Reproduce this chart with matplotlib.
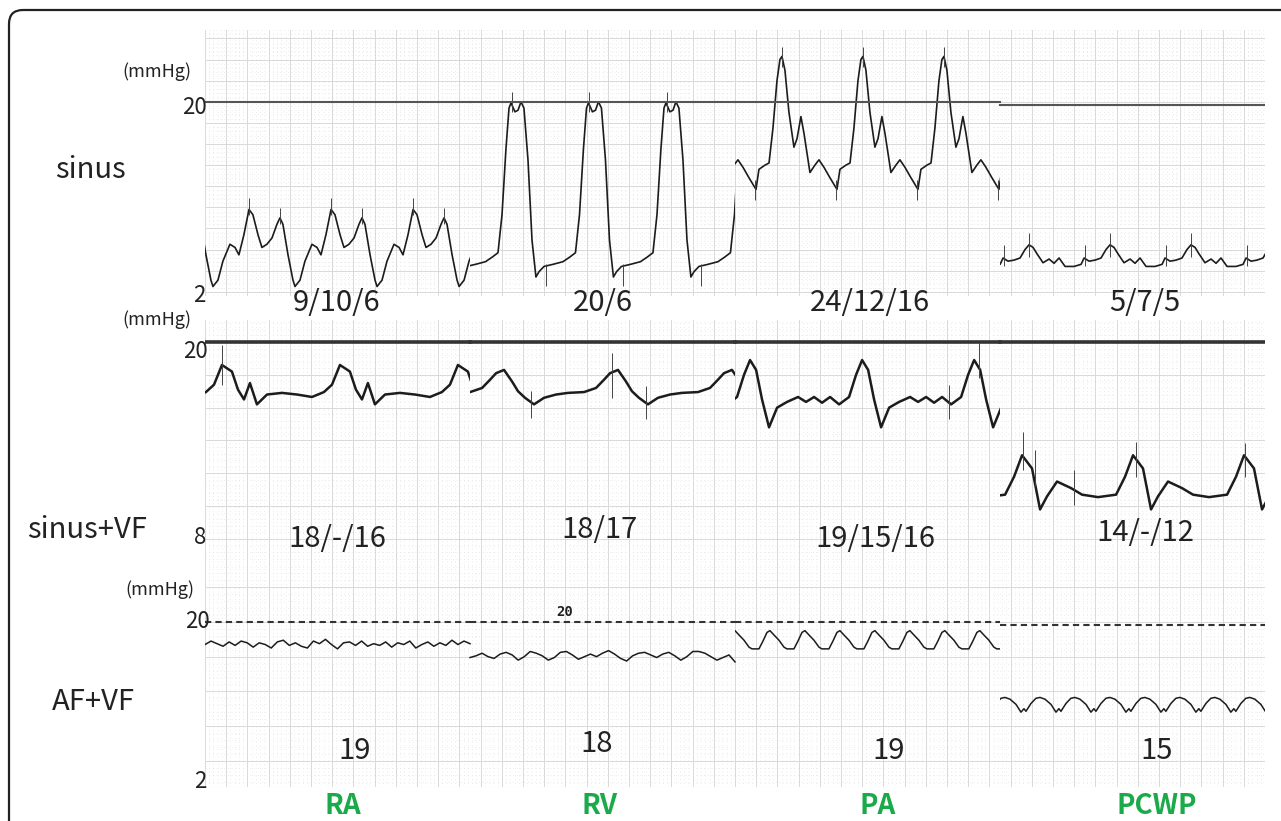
import numpy as np
import matplotlib.pyplot as plt
from matplotlib.patches import FancyBboxPatch, Rectangle

plt.rcParams['font.family'] = ['Noto Sans CJK JP', 'DejaVu Sans']

W, H = 1281, 821
SEG = 2.5  # seconds of tracing shown per chamber

chambers = ['RA', 'RV', 'PA', 'PCWP']
sinus_values = ['9/10/6', '20/6', '24/12/16', '5/7/5']
sinus_vf_values = ['18/-/16', '18/17', '19/15/16', '14/-/12']
af_vf_values = ['19', '18', '19', '15']

# ---- sinus: one beat per chamber (time in beat [s], pressure [mmHg]) ----
ra_s_t = [0, .047, .094, .160, .208, .245, .292, .340, .377, .425, .462, .509, .557, .604, .632, .660, .708, .755]
ra_s_p = [2.5, 3.1, 4.9, 6.5, 6.2, 5.5, 7.4, 9.8, 9.3, 7.4, 6.2, 6.5, 7.1, 8.4, 9.0, 8.4, 5.5, 3.1]
ra_s_spk = [(.340, 9.3, 10.9), (.632, 8.4, 9.9)]

rv_s_t = [0, .038, .075, .104, .123, .160, .189, .217, .245, .283, .321, .358, .387, .434, .519, .613, .679]
rv_s_p = [5.7, 9.3, 15.5, 19.4, 19.9, 19.05, 19.2, 20.0, 19.4, 14.5, 6.9, 3.4, 3.9, 4.4, 4.6, 4.85, 5.3]
rv_s_spk = [(.132, 19.0, 20.9), (.453, 2.5, 4.6)]

pa_s_t = [0, .028, .066, .113, .142, .179, .208, .264, .311, .349, .396, .453, .519, .547, .604, .642, .679, .717, .745]
pa_s_p = [24.3, 23.0, 19.0, 15.7, 16.5, 18.6, 17.0, 13.3, 14.0, 14.5, 13.8, 12.8, 11.7, 13.6, 14.0, 14.2, 17.5, 22.0, 24.0]
pa_s_spk = [(0.0, 23.3, 25.2), (.509, 10.7, 12.6)]

pcwp_s_t = [0, .038, .075, .132, .189, .236, .283, .340, .425, .491, .519, .566, .623, .679, .726]
pcwp_s_p = [6.45, 6.2, 5.6, 4.75, 5.1, 4.7, 5.2, 4.4, 4.4, 4.6, 5.2, 4.9, 5.0, 5.2, 6.0]
pcwp_s_spk = [(0.0, 5.3, 7.6), (.528, 4.4, 6.45)]

sinus_period = [0.774, 0.731, 0.764, 0.764]
sinus_first = [0.075, 0.264, 0.443, 0.274]
sinus_ref = [20.0, 20.0, 20.0, 19.7]

# ---- sinus + VF ----
ra_v_t = [0, .094, .151, .208, .264, .330, .425, .566, .708, .849, .962, 1.038]
ra_v_p = [18.6, 18.2, 17.1, 16.5, 17.5, 16.2, 16.8, 16.9, 16.8, 16.65, 16.95, 17.4]
rv_v_t = [0, .075, .132, .198, .283, .377, .491, .604, .755, .868, .943, 1.0]
rv_v_p = [18.3, 17.6, 17.0, 16.6, 16.2, 16.6, 16.8, 16.9, 16.95, 17.2, 17.7, 18.1]
pa_v_t = [0, .057, .113, .179, .255, .349, .453, .528, .604, .679, .755, .840, .934, 1.0]
pa_v_p = [18.9, 18.3, 16.5, 14.8, 16.0, 16.35, 16.65, 16.35, 16.65, 16.3, 16.65, 16.2, 16.65, 18.0]
pcwp_v_t = [0, .094, .170, .236, .330, .462, .566, .717, .887, .972]
pcwp_v_p = [13.1, 12.3, 9.8, 10.6, 11.5, 11.1, 10.7, 10.55, 10.7, 11.8]
vf_period = [1.113, 1.075, 1.057, 1.047]
vf_first = [0.160, 0.321, 0.142, 0.208]
vf_ref = [20.0, 20.0, 20.0, 20.0]
# (time [s], low, high) artefact spikes
vf_spikes = [(0.160, 17.4, 19.8), (3.075, 15.4, 17.0), (3.840, 16.6, 19.3), (4.160, 15.3, 17.3),
             (7.019, 15.3, 17.4), (7.302, 17.8, 20.0), (7.717, 12.2, 14.5), (7.830, 11.2, 13.4),
             (8.198, 10.1, 12.2), (8.783, 11.8, 13.9), (9.811, 11.8, 13.85)]

# ---- AF + VF ----
ra_af_p = [17.4, 17.8, 17.5, 17.2, 17.7, 17.3, 17.8, 17.6, 17.1, 17.6, 17.4, 17.0, 17.7, 17.9, 17.3,
           17.6, 17.2, 17.0, 17.8, 17.5, 18.0, 17.4, 16.9, 17.6, 17.7, 17.3, 17.8, 17.2, 17.5, 17.3,
           17.7, 17.1, 17.6, 17.4, 17.8, 17.0, 17.4, 17.7, 17.2, 17.6, 17.3, 17.9, 17.4, 17.8, 17.5]
rv_af_p = [15.9, 16.1, 16.4, 16.0, 15.8, 16.3, 16.5, 16.2, 15.6, 16.0, 16.6, 16.4, 16.1, 15.6, 15.9,
           16.5, 16.6, 16.2, 15.7, 16.0, 16.3, 16.0, 16.4, 16.7, 16.3, 15.8, 15.5, 16.1, 16.4, 16.5,
           16.2, 15.9, 16.3, 16.5, 16.1, 15.6, 16.0, 16.6, 16.6, 16.4, 16.0, 15.6, 15.9, 16.2, 15.4]
pa_af_t = [0, .038, .085, .132, .160, .226, .264, .302]
pa_af_p = [19.0, 18.5, 17.9, 17.1, 16.9, 16.9, 17.8, 18.8]
pcwp_af_t = [0, .047, .104, .151, .179, .198, .245, .292]
pcwp_af_p = [11.3, 11.1, 10.5, 9.6, 10.0, 9.7, 10.6, 11.2]
af_period = [0.330, 0.330]
af_first = [0.0, 0.047]
af_ref = [20.0, 20.0, 20.0, 19.65]

INK = '#1c1c1c'
TXT = '#222222'


def tile(t, p, period, first, seg):
    t0 = seg * SEG
    xs, ys = [], []
    for k in range(-1, int(SEG / period) + 2):
        xs.extend(t0 + first + k * period + np.asarray(t))
        ys.extend(p)
    return np.array(xs), np.array(ys)


def seg_clip(ax, seg):
    return Rectangle((seg * SEG, -50), SEG, 100, transform=ax.transData)


def row_axes(box, ylim, ymajor, yminor):
    x0, y0, x1, y1 = box
    ax = fig.add_axes([x0 / W, 1 - y1 / H, (x1 - x0) / W, (y1 - y0) / H])
    ax.set_xlim(0, 4 * SEG)
    ax.set_xticks(np.arange(0, 4 * SEG + 0.01, 0.2))
    ax.set_xticks(np.arange(0, 4 * SEG + 0.01, 0.04), minor=True)
    ax.set_yticks(np.arange(0, 30, ymajor))
    ax.set_yticks(np.arange(0, 30, yminor), minor=True)
    ax.set_ylim(*ylim)
    ax.grid(which='major', color='#d9d9d9', lw=0.7)
    ax.grid(which='minor', color='#e4e4e4', lw=0.6, ls=(0, (1, 3.5)))
    ax.tick_params(which='both', length=0, labelbottom=False, labelleft=False)
    for s in ax.spines.values():
        s.set_visible(False)
    ax.set_axisbelow(True)
    return ax


fig = plt.figure(figsize=(W / 100, H / 100), dpi=100)
back = fig.add_axes([0, 0, 1, 1])
back.set_xlim(0, W)
back.set_ylim(H, 0)
back.axis('off')
back.add_patch(FancyBboxPatch((9, 10), 1320, 850, boxstyle='round,pad=0,rounding_size=14',
                              fc='white', ec='#222222', lw=1.6))

# ---- row 1: sinus ----
ax1 = row_axes((205, 30, 1265, 296), (1.6, 26.8), 2, 0.4)
sinus = [(ra_s_t, ra_s_p, ra_s_spk), (rv_s_t, rv_s_p, rv_s_spk),
         (pa_s_t, pa_s_p, pa_s_spk), (pcwp_s_t, pcwp_s_p, pcwp_s_spk)]
for i, (t, p, spk) in enumerate(sinus):
    x, y = tile(t, p, sinus_period[i], sinus_first[i], i)
    ln, = ax1.plot(x, y, color=INK, lw=1.2)
    ln.set_clip_path(seg_clip(ax1, i))
    for k in range(-1, int(SEG / sinus_period[i]) + 2):
        for st, lo, hi in spk:
            xs = i * SEG + sinus_first[i] + k * sinus_period[i] + st
            vl = ax1.vlines(xs, lo, hi, color='#444444', lw=0.7)
            vl.set_clip_path(seg_clip(ax1, i))
    ax1.plot([i * SEG, (i + 1) * SEG], [sinus_ref[i]] * 2, color='#555555', lw=1.5)

# ---- row 2: sinus + VF ----
ax2 = row_axes((205, 320, 1265, 560), (6.72, 21.34), 2, 0.4)
vf = [(ra_v_t, ra_v_p), (rv_v_t, rv_v_p), (pa_v_t, pa_v_p), (pcwp_v_t, pcwp_v_p)]
for i, (t, p) in enumerate(vf):
    x, y = tile(t, p, vf_period[i], vf_first[i], i)
    ln, = ax2.plot(x, y, color=INK, lw=1.8)
    ln.set_clip_path(seg_clip(ax2, i))
    ax2.plot([i * SEG, (i + 1) * SEG], [vf_ref[i]] * 2, color='#333333', lw=2.6)
for st, lo, hi in vf_spikes:
    ax2.vlines(st, lo, hi, color='#444444', lw=0.7)

# ---- row 3: AF + VF ----
ax3 = row_axes((205, 560, 1265, 787), (0.97, 27.15), 4, 0.8)
ax3.plot(np.linspace(0, SEG, len(ra_af_p)), ra_af_p, color=INK, lw=1.1)
ax3.plot(np.linspace(SEG, 2 * SEG, len(rv_af_p)), rv_af_p, color=INK, lw=1.1)
for j, (t, p) in enumerate([(pa_af_t, pa_af_p), (pcwp_af_t, pcwp_af_p)]):
    seg = j + 2
    x, y = tile(t, p, af_period[j], af_first[j], seg)
    ln, = ax3.plot(x, y, color=INK, lw=1.1)
    ln.set_clip_path(seg_clip(ax3, seg))
for i in range(4):
    ax3.plot([i * SEG, (i + 1) * SEG], [af_ref[i]] * 2, color='#333333', lw=1.5, ls=(0, (3, 2)))

# ---- labels ----
top = fig.add_axes([0, 0, 1, 1], facecolor='none')
top.set_xlim(0, W)
top.set_ylim(H, 0)
top.axis('off')

for label, x, y in [('sinus', 55, 170), ('sinus+VF', 27, 530), ('AF+VF', 52, 702)]:
    top.text(x, y, label, fontsize=21, ha='left', va='center', color=TXT)
for x, y in [(157, 72), (157, 320), (160, 590)]:
    top.text(x, y, '(mmHg)', fontsize=13, ha='center', va='center', color=TXT)
for txt, x, y in [('20', 207, 107), ('2', 205, 295), ('20', 208, 351), ('8', 206, 537),
                  ('20', 210, 622), ('2', 206, 782)]:
    top.text(x, y, txt, fontsize=16, ha='right', va='center', color=TXT)
top.text(565, 612, '20', fontsize=10, ha='center', va='center', weight='bold',
         family='DejaVu Sans Mono', color=TXT)

for i in range(4):
    top.text([337, 603, 870, 1145][i], 303, sinus_values[i], fontsize=21, ha='center',
             va='center', color=TXT)
    top.text([337, 600, 875, 1145][i], [539, 530, 539, 533][i], sinus_vf_values[i],
             fontsize=21, ha='center', va='center', color=TXT)
    top.text([355, 597, 889, 1157][i], [751, 744, 751, 751][i], af_vf_values[i], fontsize=21,
             ha='center', va='center', color=TXT)
    top.text([343, 600, 878, 1157][i], 806, chambers[i], fontsize=20, weight='bold',
             ha='center', va='center', color='#1aaa4a')

fig.savefig('out.png', dpi=100)
